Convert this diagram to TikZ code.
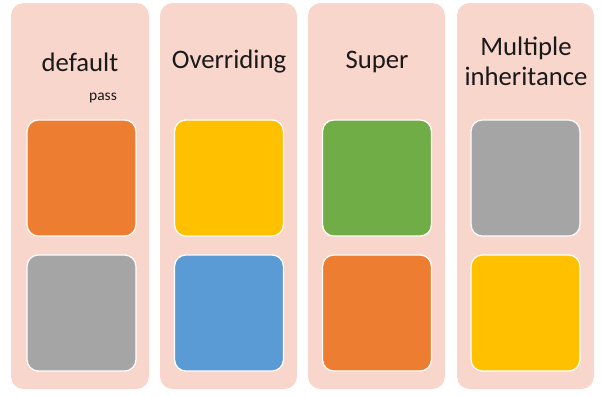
\documentclass[tikz,border=0pt]{standalone}
\usepackage{fontspec}
\setmainfont{Carlito}
\usepackage{tikz}
\usetikzlibrary{positioning}

\definecolor{panel}{HTML}{F8D6CC}
\definecolor{orng}{HTML}{ED7D31}
\definecolor{gry}{HTML}{A5A5A5}
\definecolor{yel}{HTML}{FFC000}
\definecolor{grn}{HTML}{70AD47}
\definecolor{blu}{HTML}{5B9BD5}

\tikzset{
  panelbox/.style={fill=panel,rounded corners=9pt},
  tile/.style={draw=white,line width=0.9pt,rounded corners=8pt,
    minimum width=2.72cm,minimum height=2.9cm,inner sep=0pt},
  title/.style={font=\fontsize{19}{21}\selectfont,align=center,text=black!90}
}

\begin{document}
\begin{tikzpicture}[x=0.025cm,y=-0.025cm]
  \useasboundingbox (0,0) rectangle (602,395);
  % column panels
  \fill[panelbox] (11,3) rectangle (149,389);
  \fill[panelbox] (160,3) rectangle (297,389);
  \fill[panelbox] (308,3) rectangle (445,389);
  \fill[panelbox] (457,3) rectangle (594,389);
  % headings
  \node[title] (t1) at (80,62) {default};
  \node[title] (t2) at (229,62) {Overriding};
  \node[title] (t3) at (377,62) {Super};
  \node[title] (t4) at (526,61.5) {Multiple\\inheritance};
  \node[font=\fontsize{11}{12}\selectfont,text=black!90] (p1) at (103,98) {pass};
  % upper tiles
  \node[tile,fill=orng] (a1) at (81.5,178) {};
  \node[tile,fill=yel]  (a2) at (229,178) {};
  \node[tile,fill=grn]  (a3) at (377,178) {};
  \node[tile,fill=gry]  (a4) at (525.5,178) {};
  % lower tiles
  \node[tile,fill=gry]  (b1) at (81.5,313) {};
  \node[tile,fill=blu]  (b2) at (229,313) {};
  \node[tile,fill=orng] (b3) at (377,313) {};
  \node[tile,fill=yel]  (b4) at (525.5,313) {};
\end{tikzpicture}
\end{document}
